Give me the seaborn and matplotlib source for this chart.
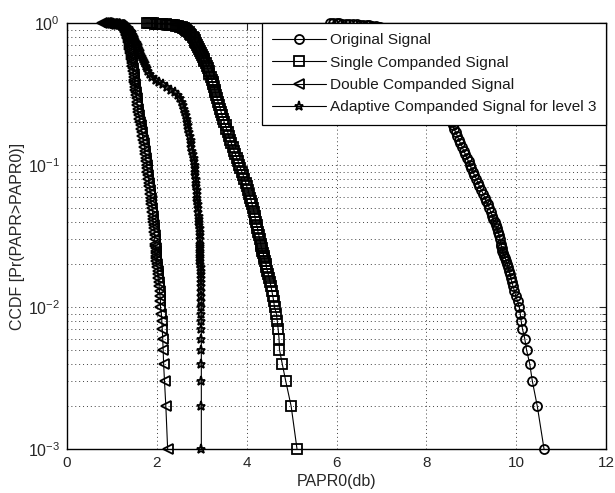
import numpy as np
import pandas as pd
import matplotlib
matplotlib.use("Agg")
import matplotlib.pyplot as plt
import seaborn as sns
from matplotlib.ticker import LogLocator, NullFormatter, MultipleLocator

# CCDF levels (shared y values for every series)
ccdf_levels = [1.0, 0.998, 0.996, 0.994, 0.992, 0.99, 0.987, 0.984, 0.98, 0.976,
               0.972, 0.967, 0.962, 0.956, 0.95, 0.943, 0.936, 0.928, 0.92, 0.91, 0.9,
               0.88, 0.86, 0.84, 0.82, 0.8, 0.78, 0.76, 0.74, 0.72, 0.7,
               0.68, 0.66, 0.64, 0.62, 0.6, 0.58, 0.56, 0.54, 0.52, 0.5,
               0.48, 0.46, 0.44, 0.42, 0.4,
               0.385, 0.37, 0.355, 0.34, 0.325, 0.31, 0.295, 0.28, 0.265, 0.25,
               0.237, 0.224, 0.212, 0.2, 0.19, 0.18, 0.17, 0.16,
               0.151, 0.142, 0.134, 0.126, 0.119, 0.112, 0.106, 0.1,
               0.095, 0.09, 0.085, 0.08, 0.075,
               0.071, 0.067, 0.063, 0.059, 0.056, 0.053, 0.05, 0.047, 0.044, 0.042,
               0.04, 0.038, 0.036, 0.034, 0.032, 0.03, 0.028,
               0.027, 0.026, 0.025, 0.024, 0.023, 0.022, 0.021, 0.02, 0.019, 0.018,
               0.017, 0.016, 0.015, 0.014, 0.013, 0.012, 0.011,
               0.01, 0.009, 0.008, 0.007, 0.006, 0.005, 0.004, 0.003, 0.002, 0.001]

# PAPR0 (dB) at each CCDF level
papr_original = [5.85, 5.93, 6.0, 6.06, 6.13, 6.2, 6.28, 6.36, 6.45, 6.53,
                 6.6, 6.67, 6.73, 6.8, 6.87, 6.92, 6.97, 7.02, 7.06, 7.11, 7.15,
                 7.2, 7.25, 7.3, 7.36, 7.42, 7.47, 7.52, 7.57, 7.62, 7.67,
                 7.71, 7.75, 7.8, 7.84, 7.88, 7.92, 7.95, 7.99, 8.02, 8.06,
                 8.09, 8.12, 8.16, 8.19, 8.22,
                 8.24, 8.26, 8.28, 8.3, 8.32, 8.35, 8.37, 8.4, 8.42, 8.45,
                 8.47, 8.5, 8.53, 8.56, 8.59, 8.62, 8.65, 8.69,
                 8.72, 8.76, 8.8, 8.83, 8.87, 8.9, 8.94, 8.97,
                 9.0, 9.03, 9.07, 9.11, 9.15,
                 9.18, 9.22, 9.26, 9.3, 9.33, 9.37, 9.4, 9.43, 9.47, 9.49,
                 9.52, 9.54, 9.57, 9.59, 9.62, 9.64, 9.66,
                 9.67, 9.68, 9.69, 9.71, 9.73, 9.76, 9.78, 9.8, 9.82, 9.84,
                 9.86, 9.88, 9.9, 9.93, 9.96, 9.99, 10.03,
                 10.07, 10.09, 10.11, 10.14, 10.19, 10.23, 10.3, 10.36, 10.47, 10.62]

papr_single = [1.77, 1.82, 1.87, 1.91, 1.96, 2.0, 2.06, 2.12, 2.2, 2.25,
               2.29, 2.34, 2.38, 2.43, 2.48, 2.52, 2.55, 2.58, 2.6, 2.62, 2.64,
               2.68, 2.71, 2.74, 2.77, 2.8, 2.82, 2.84, 2.86, 2.88, 2.9,
               2.92, 2.94, 2.96, 2.98, 3.0, 3.02, 3.04, 3.06, 3.09, 3.11,
               3.13, 3.15, 3.17, 3.2, 3.22,
               3.24, 3.25, 3.27, 3.29, 3.3, 3.32, 3.34, 3.36, 3.39, 3.41,
               3.43, 3.45, 3.48, 3.5, 3.53, 3.55, 3.58, 3.6,
               3.63, 3.66, 3.69, 3.72, 3.75, 3.78, 3.81, 3.83,
               3.86, 3.89, 3.92, 3.95, 3.98,
               4.0, 4.03, 4.05, 4.08, 4.1, 4.12, 4.14, 4.16, 4.18, 4.19,
               4.2, 4.22, 4.24, 4.25, 4.27, 4.29, 4.31,
               4.32, 4.33, 4.35, 4.36, 4.38, 4.39, 4.41, 4.43, 4.44, 4.46,
               4.48, 4.5, 4.52, 4.54, 4.56, 4.58, 4.6,
               4.62, 4.66, 4.68, 4.7, 4.72, 4.73, 4.79, 4.87, 4.99, 5.12]

papr_double = [0.78, 0.82, 0.86, 0.89, 0.92, 0.95, 0.99, 1.03, 1.07, 1.1,
               1.13, 1.15, 1.17, 1.19, 1.2, 1.22, 1.23, 1.24, 1.25, 1.26, 1.27,
               1.28, 1.3, 1.31, 1.32, 1.33, 1.34, 1.35, 1.36, 1.37, 1.37,
               1.38, 1.39, 1.4, 1.41, 1.42, 1.42, 1.43, 1.44, 1.44, 1.45,
               1.46, 1.47, 1.48, 1.49, 1.5,
               1.5, 1.51, 1.52, 1.52, 1.53, 1.54, 1.55, 1.56, 1.56, 1.57,
               1.58, 1.6, 1.61, 1.63, 1.64, 1.65, 1.67, 1.68,
               1.7, 1.71, 1.72, 1.73, 1.74, 1.75, 1.76, 1.77,
               1.78, 1.79, 1.8, 1.81, 1.82,
               1.83, 1.84, 1.85, 1.86, 1.87, 1.88, 1.89, 1.9, 1.91, 1.91,
               1.92, 1.93, 1.93, 1.94, 1.95, 1.95, 1.96,
               1.96, 1.97, 1.97, 1.98, 1.98, 1.99, 1.99, 2.0, 2.01, 2.02,
               2.02, 2.03, 2.04, 2.05, 2.06, 2.07, 2.08,
               2.08, 2.1, 2.11, 2.12, 2.13, 2.14, 2.15, 2.17, 2.2, 2.24]

papr_adaptive = [0.9, 0.95, 0.99, 1.03, 1.06, 1.08, 1.12, 1.16, 1.19, 1.21,
                 1.23, 1.25, 1.27, 1.29, 1.31, 1.33, 1.34, 1.36, 1.37, 1.39, 1.4,
                 1.42, 1.44, 1.45, 1.47, 1.49, 1.5, 1.52, 1.53, 1.55, 1.57,
                 1.58, 1.6, 1.62, 1.63, 1.65, 1.67, 1.69, 1.71, 1.73, 1.75,
                 1.78, 1.81, 1.85, 1.9, 1.97,
                 2.04, 2.13, 2.23, 2.32, 2.4, 2.46, 2.51, 2.55, 2.58, 2.6,
                 2.62, 2.64, 2.66, 2.68, 2.69, 2.7, 2.72, 2.73,
                 2.75, 2.76, 2.77, 2.79, 2.8, 2.82, 2.83, 2.84,
                 2.85, 2.86, 2.86, 2.87, 2.88,
                 2.88, 2.89, 2.89, 2.9, 2.9, 2.91, 2.92, 2.92, 2.93, 2.93,
                 2.94, 2.94, 2.95, 2.95, 2.95, 2.96, 2.96,
                 2.96, 2.96, 2.97, 2.97, 2.97, 2.97, 2.97, 2.97, 2.98, 2.98,
                 2.98, 2.98, 2.98, 2.98, 2.98, 2.99, 2.99,
                 2.99, 2.99, 2.99, 2.99, 2.99, 2.99, 2.99, 2.99, 2.99, 2.99]

series_names = ["Original Signal", "Single Companded Signal",
                "Double Companded Signal", "Adaptive Companded Signal for level 3"]
series_values = [papr_original, papr_single, papr_double, papr_adaptive]
series_markers = ["o", "s", "<", "*"]

frames = []
for name, vals in zip(series_names, series_values):
    frames.append(pd.DataFrame({"PAPR0": vals, "CCDF": ccdf_levels, "Signal": name}))
df = pd.concat(frames, ignore_index=True)

sns.set_style("white")
plt.rcParams["font.family"] = ["Liberation Sans", "DejaVu Sans"]
plt.rcParams["mathtext.fontset"] = "custom"
plt.rcParams["mathtext.rm"] = "Liberation Sans"
plt.rcParams["mathtext.it"] = "Liberation Sans:italic"

fig = plt.figure(figsize=(6.15, 4.93), dpi=100)
ax = fig.add_axes([0.109, 0.0892, 0.8764, 0.8641])

sns.lineplot(data=df, x="PAPR0", y="CCDF", hue="Signal", style="Signal",
             hue_order=series_names, style_order=series_names,
             palette=["k"] * 4, markers=series_markers, dashes=False,
             sort=False, estimator=None, legend=False, ax=ax,
             linewidth=0.8, markersize=6.5, markerfacecolor="none",
             markeredgecolor="k", markeredgewidth=1.3, clip_on=False)

ax.set_yscale("log")
ax.set_xlim(0, 12)
ax.set_ylim(1e-3, 1)
ax.xaxis.set_major_locator(MultipleLocator(2))
ax.yaxis.set_major_locator(LogLocator(base=10, numticks=10))
ax.yaxis.set_minor_locator(LogLocator(base=10, subs=np.arange(2, 10), numticks=20))
ax.yaxis.set_minor_formatter(NullFormatter())

ax.grid(True, which="major", axis="both", color="0.25", linestyle=(0, (1, 3)), linewidth=0.7)
ax.grid(True, which="minor", axis="y", color="0.25", linestyle=(0, (1, 3)), linewidth=0.7)
ax.set_axisbelow(True)

ax.tick_params(which="both", direction="in", top=True, right=True,
               labelsize=11.5, pad=5, labelcolor="0.15")
ax.tick_params(axis="x", labelsize=11)
ax.tick_params(which="major", length=5, width=0.8)
ax.tick_params(which="minor", length=3, width=0.6)
for sp in ax.spines.values():
    sp.set_color("k")
    sp.set_linewidth(1.0)

ax.set_xlabel("PAPR0(db)", fontsize=11.5, labelpad=3, color="0.15")
ax.set_ylabel("CCDF [Pr(PAPR>PAPR0)]", fontsize=11.5, labelpad=2, color="0.15")

leg = ax.legend(handles=ax.lines[:4], labels=series_names, loc="upper right",
                borderaxespad=0, fancybox=False, framealpha=1, edgecolor="k",
                fontsize=11.1, handlelength=3.5, numpoints=1, labelspacing=0.55,
                handletextpad=0.25, borderpad=0.65)
leg.get_frame().set_linewidth(0.9)
for t in leg.get_texts():
    t.set_color("0.1")

fig.savefig("out.png", dpi=100)
